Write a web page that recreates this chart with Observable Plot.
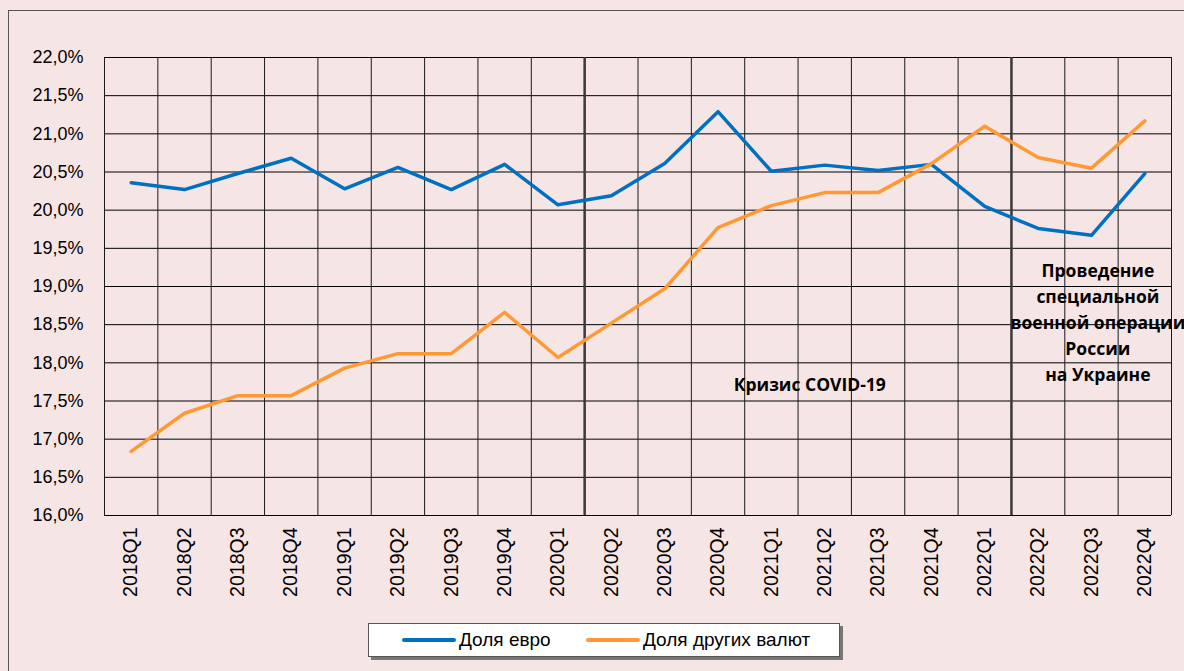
<!DOCTYPE html>
<html><head><meta charset="utf-8">
<script src="https://cdn.jsdelivr.net/npm/d3@7"></script>
<script src="https://cdn.jsdelivr.net/npm/@observablehq/plot@0.6"></script>
<style>
html,body{margin:0;padding:0;background:#f6e5e5;overflow:hidden;width:1184px;height:671px;}
#wrap{position:relative;width:1184px;height:671px;overflow:hidden;}
#border{position:absolute;left:8px;top:10px;width:1300px;height:800px;border-left:1.5px solid #555;border-top:1.5px solid #555;}
#chart{position:absolute;left:0;top:0;}
#legend{position:absolute;left:368px;top:623px;width:470px;height:32px;background:#fff;border:1px solid #555;box-shadow:3px 3px 0 #777;font-family:"Liberation Sans",Arial,sans-serif;font-size:19px;color:#000;}
.item{position:absolute;top:0;height:32px;display:flex;align-items:center;}
.sw{display:inline-block;width:54px;height:3.5px;border-radius:2px;margin-right:3px;}
</style></head>
<body>
<div id="wrap">
<div id="border"></div>
<div id="chart"></div>
<div id="legend"></div>
</div>
<script>
const quarters = ["2018Q1","2018Q2","2018Q3","2018Q4","2019Q1","2019Q2","2019Q3","2019Q4","2020Q1","2020Q2","2020Q3","2020Q4","2021Q1","2021Q2","2021Q3","2021Q4","2022Q1","2022Q2","2022Q3","2022Q4"];
const euroShare = [20.36,20.27,20.48,20.68,20.28,20.56,20.27,20.60,20.07,20.19,20.61,21.29,20.51,20.59,20.52,20.60,20.05,19.76,19.67,20.48];
const otherShare = [16.84,17.34,17.57,17.57,17.93,18.12,18.12,18.66,18.07,18.52,18.97,19.77,20.06,20.23,20.23,20.61,21.10,20.69,20.55,21.17];
const yTicks = [16,16.5,17,17.5,18,18.5,19,19.5,20,20.5,21,21.5,22];
const seriesNames = ["Доля евро","Доля других валют"];
const seriesColors = ["#0070c0","#ff9933"];
const dividerAfter = ["2020Q1","2022Q1"];
const covidLabel = "Кризис COVID-19";
const svoLabel = "Проведение\nспециальной\nвоенной операции\nРоссии\nна Украине";

const rows = quarters.map((q,i)=>({i, q, euro: euroShare[i], other: otherShare[i]}));
const gridX = quarters.map((_,i)=>i-0.5).concat([quarters.length-0.5]);
const dividers = dividerAfter.map(q=>quarters.indexOf(q)+0.5);
const notes = [
  {x: 12.72, y: 17.74, text: covidLabel},
  {x: 18.12, y: 18.55, text: svoLabel}
];

const plot = Plot.plot({
  width: 1184, height: 671,
  marginLeft: 104, marginRight: 13, marginTop: 57, marginBottom: 156,
  style: {background: "transparent", color: "#000"},
  x: {type: "linear", domain: [-0.5, quarters.length-0.5]},
  y: {domain: [16, 22]},
  marks: [
    Plot.ruleY(yTicks, {stroke: "#000", strokeWidth: 1}),
    Plot.ruleX(gridX, {stroke: "#1a1a1a", strokeWidth: 1}),
    Plot.ruleX(dividers, {stroke: "#3a3a3a", strokeWidth: 2.5}),
    Plot.axisY(yTicks, {tickSize: 0, tickPadding: 21, fontSize: 18, fontFamily: "Liberation Sans, Arial, sans-serif",
      tickFormat: d => d.toFixed(1).replace(".", ",") + "%", label: null}),
    Plot.axisX(quarters.map((_,i)=>i), {tickSize: 0, tickPadding: 12, tickRotate: -90, fontSize: 19.5,
      fontFamily: "Liberation Sans, Arial, sans-serif", tickFormat: i => quarters[i], label: null}),
    Plot.lineY(rows, {x: "i", y: "euro", stroke: seriesColors[0], strokeWidth: 3.5}),
    Plot.lineY(rows, {x: "i", y: "other", stroke: seriesColors[1], strokeWidth: 3.5}),
    Plot.text(notes, {x: "x", y: "y", text: "text", fontWeight: "bold", fontSize: 17.5, lineHeight: 1.49,
      fontFamily: "Open Sans, sans-serif", fill: "#000"})
  ]
});
document.getElementById("chart").appendChild(plot);

const leg = document.getElementById("legend");
const lefts = [33, 217];
seriesNames.forEach((n,k)=>{
  const it = document.createElement("div");
  it.className = "item";
  it.style.left = lefts[k] + "px";
  it.innerHTML = `<span class="sw" style="background:${seriesColors[k]}"></span><span>${n}</span>`;
  leg.appendChild(it);
});
</script>
</body></html>
